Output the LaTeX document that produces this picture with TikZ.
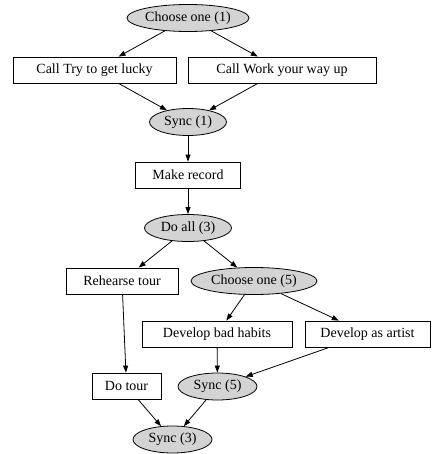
\documentclass[tikz,border=0pt]{standalone}
\usepackage{fontspec}
\setmainfont{Liberation Serif}
\usetikzlibrary{shapes.geometric,arrows.meta}
\begin{document}
\begin{tikzpicture}[x=1pt,y=-1pt]

    \tikzset{
      task/.style={
        draw,
        line width=0.8pt,
        rectangle,
        minimum height=26pt,
        inner sep=0pt,
        font=\fontsize{14}{16}\selectfont,
      },
      gate/.style={
        draw,
        line width=0.8pt,
        ellipse,
        fill={rgb,255:red,211;green,211;blue,211},
        minimum height=27pt,
        inner sep=0pt,
        font=\fontsize{14}{16}\selectfont,
      },
      flow/.style={
        line width=0.8pt,
        -{Triangle[length=7pt,width=5pt]},
      },
    }
    \useasboundingbox (0,0) rectangle (431,454);

	\node[gate, minimum width=122pt] (choose1) at (188,18) {Choose one (1)};
	\node[task, minimum width=163pt] (lucky) at (94.5,70) {Call Try to get lucky};
	\node[task, minimum width=188pt] (work) at (282,70) {Call Work your way up};
	\node[gate, minimum width=77pt] (sync1) at (188,122) {Sync (1)};
	\node[task, minimum width=105pt] (record) at (188,175) {Make record};
	\node[gate, minimum width=87pt] (doall) at (188,228) {Do all (3)};
	\node[task, minimum width=112pt] (rehearse) at (122,281) {Rehearse tour};
	\node[gate, minimum width=126pt] (choose5) at (254,281) {Choose one (5)};
	\node[task, minimum width=150pt] (bad) at (217,334) {Develop bad habits};
	\node[task, minimum width=125pt] (artist) at (367.5,334) {Develop as artist};
	\node[task, minimum width=69pt] (tour) at (126.5,386) {Do tour};
	\node[gate, minimum width=79pt] (sync5) at (217.5,386.5) {Sync (5)};
	\node[gate, minimum width=79pt] (sync3) at (172.5,439.5) {Sync (3)};

	\draw[flow] (choose1) -- (lucky);
	\draw[flow] (choose1) -- (work);
	\draw[flow] (lucky) -- (sync1);
	\draw[flow] (work) -- (sync1);
	\draw[flow] (sync1) -- (record);
	\draw[flow] (record) -- (doall);
	\draw[flow] (doall) -- (rehearse);
	\draw[flow] (doall) -- (choose5);
	\draw[flow] (choose5) -- (bad);
	\draw[flow] (choose5) -- (artist);
	\draw[flow] (rehearse) -- (tour);
	\draw[flow] (bad) -- (sync5);
	\draw[flow] (artist) -- (sync5);
	\draw[flow] (tour) -- (sync3);
	\draw[flow] (sync5) -- (sync3);

\end{tikzpicture}
\end{document}
